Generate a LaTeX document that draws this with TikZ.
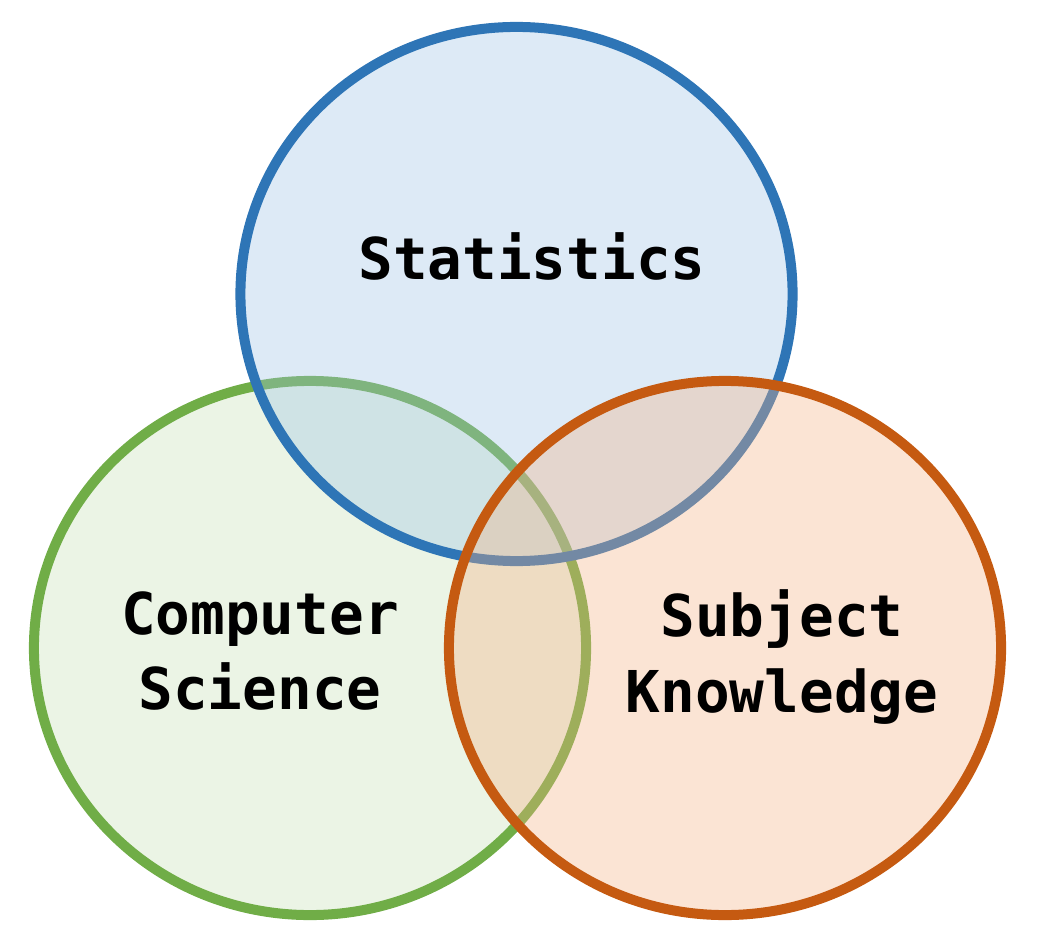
\documentclass[tikz,border=0pt]{standalone}
\usepackage{fontspec}
\setmonofont{DejaVu Sans Mono}
\usepackage{xcolor}
\definecolor{stat-blue}{HTML}{2E75B6}
\definecolor{stat-fill}{HTML}{9DC3E6}
\definecolor{comp-green}{HTML}{70AD47}
\definecolor{comp-fill}{HTML}{C5E0B4}
\definecolor{subj-orange}{HTML}{C55A11}
\definecolor{subj-fill}{HTML}{F4B183}

\begin{document}
\begin{tikzpicture}[x=0.025cm, y=-0.025cm,
          ring/.style={line width=0.25cm, fill opacity=0.35, draw opacity=1},
          every node/.style={font=\ttfamily\bfseries\fontsize{41}{53.4}\selectfont,
                             align=center}]
        % Venn diagram: three overlapping rings, green first, then blue,
        % then orange on top. Coordinates in pixels, y pointing down.
        \useasboundingbox (0,0) rectangle (1039,945);
        \coordinate (CS) at (310,648);
        \coordinate (ST) at (516.5,294);
        \coordinate (SK) at (725,648);
        \draw[ring, draw=comp-green, fill=comp-fill]
              (CS) ellipse [x radius=6.9cm, y radius=6.675cm];
        \draw[ring, draw=stat-blue, fill=stat-fill]
              (ST) ellipse [x radius=6.9cm, y radius=6.675cm];
        \draw[ring, draw=subj-orange, fill=subj-fill]
              (SK) ellipse [x radius=6.9cm, y radius=6.675cm];
        \node[anchor=base] (STAT) at (532,280) {Statistics};
        \node (COMP) at (260,651) {Computer\\Science};
        \node (SUBJ) at (782,657) {Subject\\Knowledge};
      \end{tikzpicture}
\end{document}
